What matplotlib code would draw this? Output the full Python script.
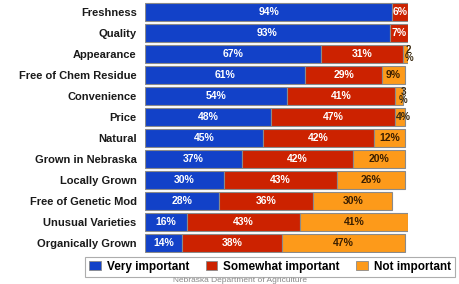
import matplotlib
matplotlib.use("Agg")
import matplotlib.pyplot as plt
from matplotlib.patches import Patch

categories = ["Freshness", "Quality", "Appearance", "Free of Chem Residue", "Convenience",
              "Price", "Natural", "Grown in Nebraska", "Locally Grown",
              "Free of Genetic Mod", "Unusual Varieties", "Organically Grown"]
very = [94, 93, 67, 61, 54, 48, 45, 37, 30, 28, 16, 14]
somewhat = [6, 7, 31, 29, 41, 47, 42, 42, 43, 36, 43, 38]
notimp = [0, 0, 2, 9, 3, 4, 12, 20, 26, 30, 41, 47]
series_names = ["Very important", "Somewhat important", "Not important"]
colors = ["#1241c8", "#cc2200", "#fd9a1a"]
text_colors = ["white", "white", "#3a1e00"]

plt.rcParams['font.family'] = ['Liberation Sans', 'DejaVu Sans']
fig = plt.figure(figsize=(4.59, 2.84), dpi=100)
ax = fig.add_axes([145/459, 1-253/284, (408-145)/459, 251/284])

y = list(range(len(categories)))
left = [0]*len(categories)
for vals, col, tc in zip([very, somewhat, notimp], colors, text_colors):
    ax.barh(y, vals, left=left, height=0.86, color=col, edgecolor="#8a8a8a", linewidth=0.8)
    for i, v in enumerate(vals):
        if v <= 0:
            continue
        cx = left[i] + v/2
        if v < 4:
            ax.text(left[i] + v + 0.3, i, f"{v}\n%", ha="center", va="center", fontsize=7,
                    fontweight="bold", color="#3a2a10", linespacing=0.8)
        elif v < 5:
            ax.text(left[i] + 0.3, i, f"{v}%", ha="left", va="center", fontsize=7.5,
                    fontweight="bold", color="#3a2a10")
        else:
            ax.text(cx, i, f"{v}%", ha="center", va="center", fontsize=7.5,
                    fontweight="bold", color=tc)
    left = [a + b for a, b in zip(left, vals)]

ax.set_xlim(0, 100)
ax.set_ylim(len(categories) - 0.5, -0.5)
ax.set_yticks(y)
ax.set_yticklabels(categories, fontsize=8, fontweight="bold", color="#1a1a1a")
ax.tick_params(axis="y", length=0, pad=6)
ax.set_xticks([])
for s in ax.spines.values():
    s.set_visible(False)

handles = [Patch(facecolor=c, edgecolor="#8a8a8a", linewidth=0.6) for c in colors]
leg = fig.legend(handles, series_names, loc="center", bbox_to_anchor=(270/459, 1-267/284),
                 ncol=3, frameon=True, fancybox=False, prop={"weight": "bold", "size": 8.5},
                 handlelength=1.0, handleheight=0.8, handletextpad=0.5, columnspacing=1.4,
                 borderpad=0.3, edgecolor="#999999")
leg.get_frame().set_linewidth(0.8)
fig.text(240/459, 1-281/284, "Nebraska Department of Agriculture", ha="center", va="center",
         fontsize=6, color="#888888")

fig.savefig("out.png", dpi=100)
